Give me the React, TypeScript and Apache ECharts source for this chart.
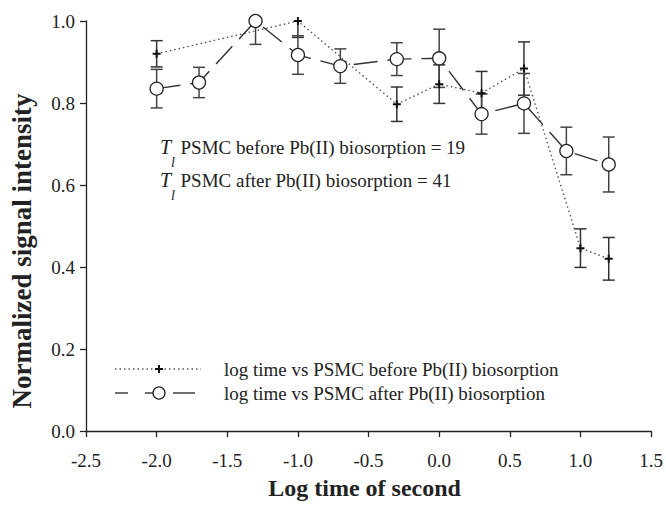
import React, { useEffect, useRef } from 'react';
import * as echarts from 'echarts';

// log time (s) values and normalized intensities
const xAfter = [-2.0, -1.7, -1.3, -1.0, -0.7, -0.3, 0.0, 0.3, 0.6, 0.9, 1.2];
const yAfter = [0.835, 0.85, 1.0, 0.917, 0.89, 0.907, 0.909, 0.773, 0.799, 0.683, 0.65];
const errAfter = [0.047, 0.037, 0.057, 0.047, 0.042, 0.04, 0.071, 0.049, 0.073, 0.058, 0.067];

const xBefore = [-2.0, -1.0, -0.3, 0.0, 0.3, 0.6, 1.0, 1.2];
const yBefore = [0.92, 1.0, 0.797, 0.846, 0.824, 0.884, 0.446, 0.42];
const errBefore = [0.032, 0.04, 0.042, 0.047, 0.053, 0.065, 0.047, 0.052];

const seriesNames = [
  'log time vs PSMC before Pb(II) biosorption',
  'log time vs PSMC after Pb(II) biosorption',
];
const annotations = [
  'PSMC before Pb(II) biosorption = 19',
  'PSMC after Pb(II) biosorption = 41',
];

const FONT = '"Liberation Serif", "Times New Roman", serif';
const INK = '#222';

export default function App() {
  const ref = useRef<HTMLDivElement>(null);
  useEffect(() => {
    document.body.style.margin = '0';
    const chart = echarts.init(ref.current!, null, { renderer: 'svg' });

    const errRender = (color: string) => (params: any, api: any) => {
      const x = api.value(0);
      const y = api.value(1);
      const e = api.value(2);
      const t = api.coord([x, y + e]);
      const b = api.coord([x, y - e]);
      const hw = 6;
      const st = { stroke: color, lineWidth: 1.5 };
      return {
        type: 'group',
        children: [
          { type: 'line', shape: { x1: t[0], y1: t[1], x2: b[0], y2: b[1] }, style: st },
          { type: 'line', shape: { x1: t[0] - hw, y1: t[1], x2: t[0] + hw, y2: t[1] }, style: st },
          { type: 'line', shape: { x1: b[0] - hw, y1: b[1], x2: b[0] + hw, y2: b[1] }, style: st },
        ],
      };
    };

    const plus = 'path://M3,0H5V3H8V5H5V8H3V5H0V3H3Z';

    const option: any = {
      animation: false,
      backgroundColor: '#fff',
      textStyle: { fontFamily: FONT },
      grid: { left: 86, right: 12, top: 21, bottom: 75, containLabel: false },
      xAxis: {
        type: 'value',
        min: -2.5,
        max: 1.5,
        interval: 0.5,
        name: 'Log time of second',
        nameLocation: 'middle',
        nameGap: 45,
        nameTextStyle: {
          fontSize: 24,
          fontWeight: 'bold',
          fontFamily: FONT,
          color: INK,
          padding: [0, 8, 0, 0],
        },
        axisLine: { onZero: false, lineStyle: { color: INK, width: 1.3 } },
        axisTick: { show: true, length: 6, lineStyle: { color: INK, width: 1.3 } },
        axisLabel: {
          fontSize: 19,
          fontFamily: FONT,
          color: INK,
          margin: 20,
          formatter: (v: number) => v.toFixed(1),
        },
        splitLine: { show: false },
      },
      yAxis: {
        type: 'value',
        min: 0,
        max: 1,
        interval: 0.2,
        axisLine: { show: true, onZero: false, lineStyle: { color: INK, width: 1.3 } },
        axisTick: { show: true, length: 6, lineStyle: { color: INK, width: 1.3 } },
        axisLabel: {
          fontSize: 19,
          fontFamily: FONT,
          color: INK,
          margin: 11,
          formatter: (v: number) => v.toFixed(1),
        },
        splitLine: { show: false },
      },
      series: [
        {
          type: 'custom',
          name: 'err-before',
          clip: true,
          z: 1,
          renderItem: errRender('#333'),
          data: xBefore.map((x, i) => [x, yBefore[i], errBefore[i]]),
        },
        {
          type: 'custom',
          name: 'err-after',
          clip: true,
          z: 1,
          renderItem: errRender('#444'),
          data: xAfter.map((x, i) => [x, yAfter[i], errAfter[i]]),
        },
        {
          type: 'line',
          name: seriesNames[0],
          z: 2,
          data: xBefore.map((x, i) => [x, yBefore[i]]),
          symbol: plus,
          symbolSize: 8,
          showAllSymbol: true,
          itemStyle: { color: '#111' },
          lineStyle: { color: '#555', width: 1.4, type: [1.5, 3] },
        },
        {
          type: 'line',
          name: seriesNames[1],
          z: 3,
          data: xAfter.map((x, i) => [x, yAfter[i]]),
          symbol: 'circle',
          symbolSize: 13,
          showAllSymbol: true,
          itemStyle: { color: '#fff', borderColor: INK, borderWidth: 1.3 },
          lineStyle: { color: '#333', width: 1.4, type: [24, 10] },
        },
      ],
      graphic: [
        // y-axis title
        {
          type: 'text',
          x: 22,
          y: 251,
          rotation: Math.PI / 2,
          style: {
            text: 'Normalized signal intensity',
            font: `bold 27px ${FONT}`,
            textAlign: 'center',
            textVerticalAlign: 'middle',
            fill: INK,
          },
        },
        // annotations
        { type: 'text', x: 160, y: 147, style: { text: 'T', font: `italic 20px ${FONT}`, textVerticalAlign: 'middle', fill: INK } },
        { type: 'text', x: 171, y: 162, style: { text: 'l', font: `italic 14px ${FONT}`, textVerticalAlign: 'middle', fill: INK } },
        { type: 'text', x: 180.5, y: 147, style: { text: annotations[0], font: `19px ${FONT}`, textVerticalAlign: 'middle', fill: INK } },
        { type: 'text', x: 160, y: 180, style: { text: 'T', font: `italic 20px ${FONT}`, textVerticalAlign: 'middle', fill: INK } },
        { type: 'text', x: 171, y: 195, style: { text: 'l', font: `italic 14px ${FONT}`, textVerticalAlign: 'middle', fill: INK } },
        { type: 'text', x: 180.5, y: 180, style: { text: annotations[1], font: `19px ${FONT}`, textVerticalAlign: 'middle', fill: INK } },
        // legend row 1
        { type: 'line', shape: { x1: 115, y1: 369, x2: 201, y2: 369 }, style: { stroke: '#555', lineWidth: 1.4, lineDash: [1.5, 3] } },
        { type: 'rect', shape: { x: 155, y: 368, width: 8, height: 2 }, style: { fill: '#111' } },
        { type: 'rect', shape: { x: 158, y: 365, width: 2, height: 8 }, style: { fill: '#111' } },
        { type: 'text', x: 224, y: 369, style: { text: seriesNames[0], font: `19px ${FONT}`, textVerticalAlign: 'middle', fill: INK } },
        // legend row 2
        { type: 'line', shape: { x1: 115, y1: 393, x2: 128, y2: 393 }, style: { stroke: '#333', lineWidth: 1.4 } },
        { type: 'line', shape: { x1: 145, y1: 393, x2: 153, y2: 393 }, style: { stroke: '#333', lineWidth: 1.4 } },
        { type: 'line', shape: { x1: 173, y1: 393, x2: 195, y2: 393 }, style: { stroke: '#333', lineWidth: 1.4 } },
        { type: 'circle', shape: { cx: 159, cy: 393, r: 6 }, style: { fill: '#fff', stroke: INK, lineWidth: 1.3 } },
        { type: 'text', x: 224, y: 393, style: { text: seriesNames[1], font: `19px ${FONT}`, textVerticalAlign: 'middle', fill: INK } },
      ],
    };

    chart.setOption(option);
    return () => chart.dispose();
  }, []);

  return <div ref={ref} style={{ width: 666, height: 506 }} />;
}
